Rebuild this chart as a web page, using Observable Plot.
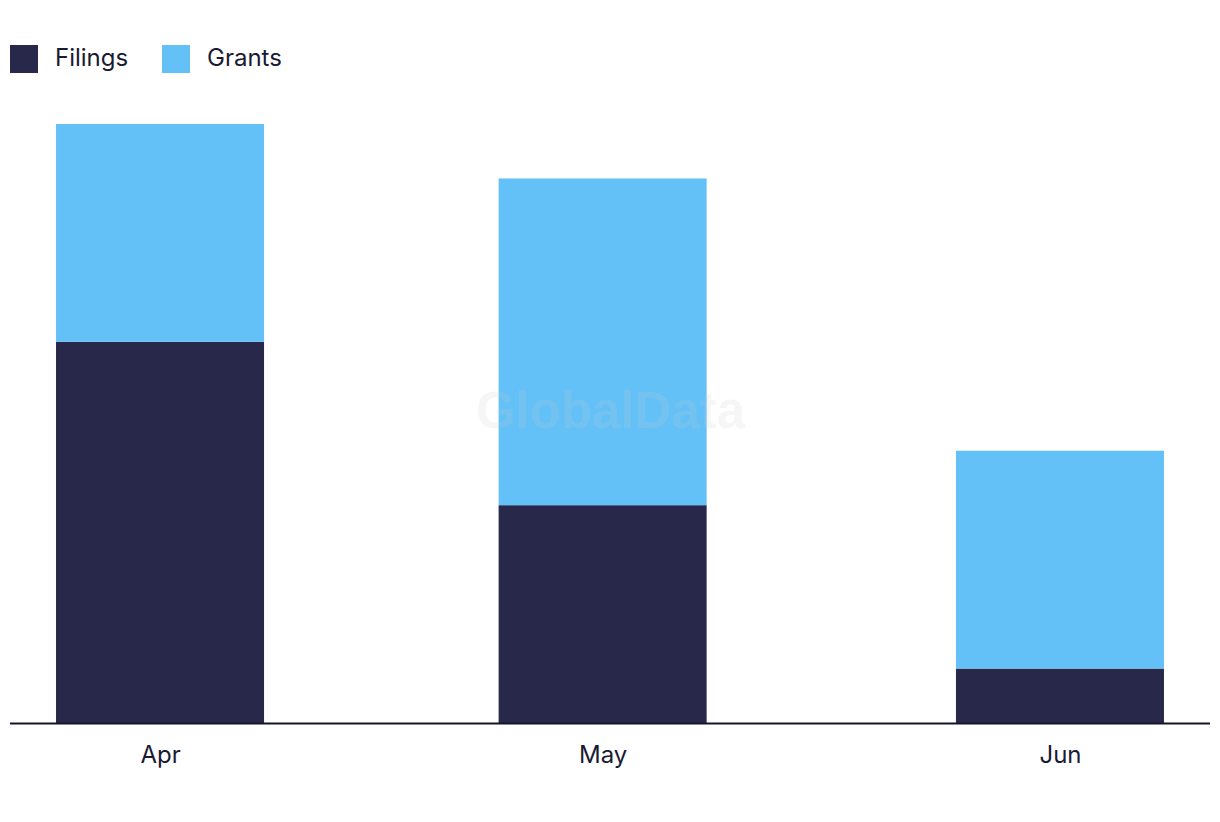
<!DOCTYPE html>
<html>
<head>
<meta charset="utf-8">
<script src="https://cdn.jsdelivr.net/npm/d3@7"></script>
<script src="https://cdn.jsdelivr.net/npm/@observablehq/plot@0.6"></script>
<style>
  html, body { margin: 0; padding: 0; background: #fff; }
  body { width: 1220px; height: 822px; overflow: hidden; font-family: Inter, "Noto Sans", sans-serif; color: #1a1a33; }
  #legend { height: 100px; position: relative; }
  .item { position: absolute; top: 45px; display: flex; align-items: center; font-size: 24px; height: 28px; }
  .item span { position: relative; top: -2px; }
  .sw { width: 28px; height: 28px; margin-right: 17px; }
</style>
</head>
<body>
<div id="legend"></div>
<div id="chart"></div>
<script>
// Data
const months = ["2024-04-01", "2024-05-01", "2024-06-01"];
const monthLabels = ["Apr", "May", "Jun"];
const seriesNames = ["Filings", "Grants"];
const filings = [7, 4, 1];
const grants = [4, 6, 4];
const colors = ["#27284a", "#63c1f8"];

// Layout constants
const DAY = 864e5;
const halfBarDays = 7.05;
const padDays = 10.17;

const dates = months.map(d => new Date(d + "T00:00:00Z"));
const rows = [];
dates.forEach((d, i) => {
  const vals = [filings[i], grants[i]];
  let acc = 0;
  vals.forEach((v, s) => {
    rows.push({
      date: d,
      x1: new Date(+d - halfBarDays * DAY),
      x2: new Date(+d + halfBarDays * DAY),
      y1: acc,
      y2: acc + v,
      series: seriesNames[s]
    });
    acc += v;
  });
});

// Legend
const legend = document.getElementById("legend");
const legendX = [10, 162];
seriesNames.forEach((name, i) => {
  const it = document.createElement("div");
  it.className = "item";
  it.style.left = legendX[i] + "px";
  it.innerHTML = `<div class="sw" style="background:${colors[i]}"></div><span>${name}</span>`;
  legend.appendChild(it);
});

const chart = Plot.plot({
  width: 1220,
  height: 722,
  marginTop: 24,
  marginBottom: 99,
  marginLeft: 10,
  marginRight: 10,
  style: { fontFamily: "Inter, 'Noto Sans', sans-serif", color: "#1a1a33", background: "transparent" },
  x: {
    type: "utc",
    domain: [new Date(+dates[0] - padDays * DAY), new Date(+dates[dates.length - 1] + padDays * DAY)],
    axis: null
  },
  y: { domain: [0, 11], axis: null },
  color: { domain: seriesNames, range: colors },
  marks: [
    Plot.rectY(rows, { x1: "x1", x2: "x2", y1: "y1", y2: "y2", fill: "series" }),
    Plot.text(["GlobalData"], {
      frameAnchor: "middle", dy: -12,
      fontFamily: "'Liberation Sans', Arial, sans-serif", fontWeight: "bold", fontSize: 51,
      fill: "#c8c8c8", fillOpacity: 0.17
    }),
    Plot.ruleY([0], { stroke: "#14142a", strokeWidth: 2 }),
    Plot.axisX(dates, {
      tickSize: 0, tickPadding: 22, fontSize: 24,
      tickFormat: (d, i) => monthLabels[i], fill: "#1a1a33"
    })
  ]
});
document.getElementById("chart").appendChild(chart);
</script>
</body>
</html>
